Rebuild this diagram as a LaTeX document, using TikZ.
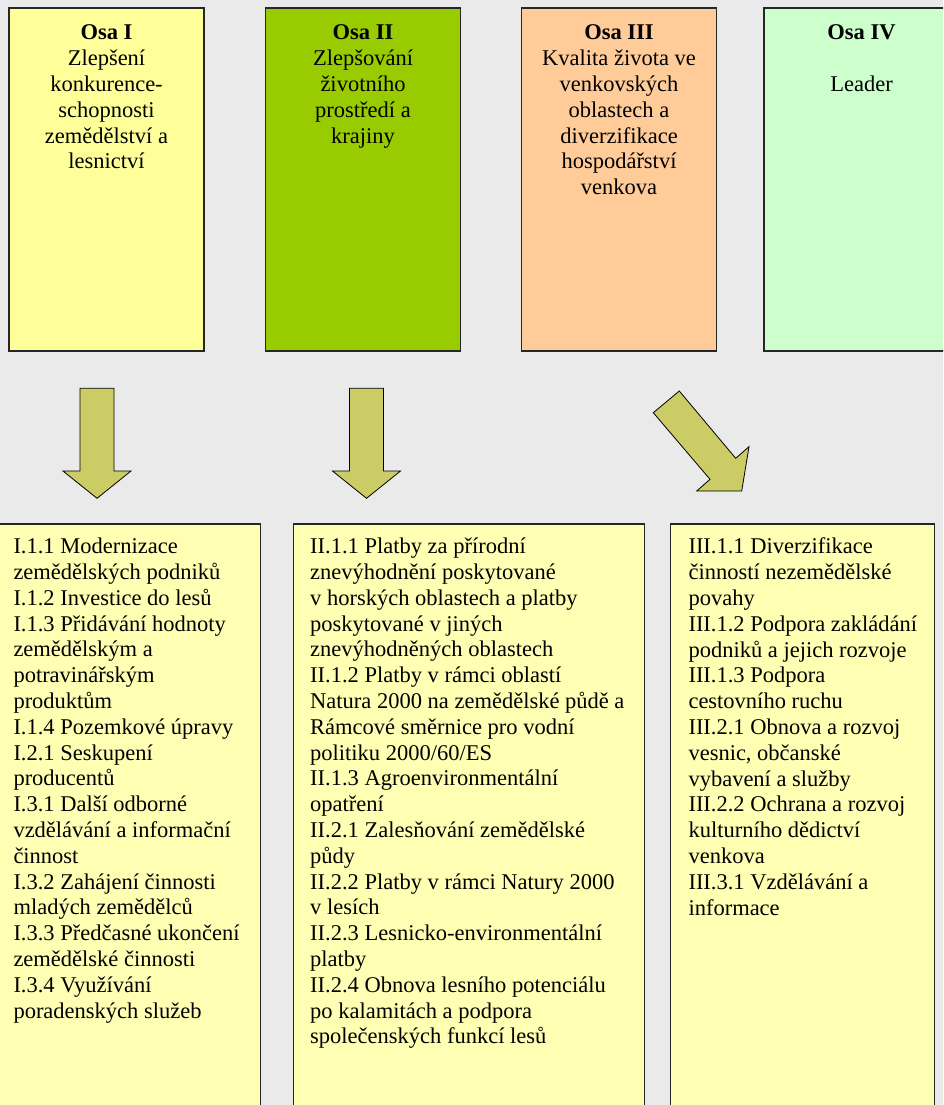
\documentclass[tikz,border=0pt]{standalone}
\usepackage{fontspec}
\setmainfont{Liberation Serif}
\usepackage{tikz}
\usetikzlibrary{positioning}
\definecolor{osabg}{RGB}{234,234,234}
\definecolor{osayellow}{RGB}{255,255,153}
\definecolor{osagreen}{RGB}{153,204,0}
\definecolor{osaorange}{RGB}{255,204,153}
\definecolor{osamint}{RGB}{204,255,204}
\definecolor{osapale}{RGB}{255,255,180}
\definecolor{osaolive}{RGB}{204,204,102}
\tikzstyle{axisbox} = [rectangle, minimum width=195pt, minimum height=343pt, draw=black!85, line width=1.2pt, inner sep=0pt]
\tikzstyle{axistext} = [align=center, inner sep=0pt, font=\fontsize{22.5}{25.9}\selectfont]
\tikzstyle{measurebox} = [rectangle, anchor=north west, minimum height=597pt, draw=black!85, line width=1.2pt, fill=osapale, inner sep=0pt]
\tikzstyle{measuretext} = [align=left, inner sep=0pt, font=\fontsize{22.5}{25.8}\selectfont]
\tikzstyle{blockarrow} = [draw=black, line width=0.8pt, fill=osaolive, line join=miter]

\begin{document}
\begin{tikzpicture}[x=1pt, y=-1pt]
\useasboundingbox (0,0) rectangle (943,1105);
\clip (0,0) rectangle (943,1105);
\fill[osabg] (0,0) rectangle (943,1105);

% Axis boxes
\node (osa1) [axisbox, fill=osayellow] at (106.5,179.5) {};
\node (osa2) [axisbox, fill=osagreen] at (363,179.5) {};
\node (osa3) [axisbox, fill=osaorange] at (619,179.5) {};
\node (osa4) [axisbox, fill=osamint] at (861.5,179.5) {};

\node (osa1txt) [axistext, below=17pt of osa1.north] {\textbf{Osa I}\\Zlepšení\\konkurence-\\schopnosti\\zemědělství a\\lesnictví};
\node (osa2txt) [axistext, below=17pt of osa2.north] {\textbf{Osa II}\\Zlepšování\\životního\\prostředí a\\krajiny};
\node (osa3txt) [axistext, below=17pt of osa3.north] {\textbf{Osa III}\\Kvalita života ve\\venkovských\\oblastech a\\diverzifikace\\hospodářství\\venkova};
\node (osa4txt) [axistext, below=17pt of osa4.north] {\textbf{Osa IV}\\[25.9pt]Leader};

% Block arrows
\draw[blockarrow] (80,388.3) -- (114,388.3) -- (114,471) -- (131,471) -- (97,498.3) -- (63,471) -- (80,471) -- cycle;
\draw[blockarrow] (349.5,388.3) -- (383.5,388.3) -- (383.5,471) -- (400.5,471) -- (366.5,498.3) -- (332.5,471) -- (349.5,471) -- cycle;
\draw[blockarrow] (679.3,391) -- (653.3,412.7) -- (710,479.3) -- (696.7,491) -- (741.7,491) -- (749,446.7) -- (735.7,458.3) -- cycle;

% Measure boxes
\node (meas1) [measurebox, minimum width=263pt] at (-3,523.3) {};
\node (meas2) [measurebox, minimum width=351pt] at (292.5,523.3) {};
\node (meas3) [measurebox, minimum width=264pt] at (669.5,523.3) {};

\node (meas1txt) [measuretext, anchor=north west] at (13.3,537.8) {I.1.1 Modernizace\\zemědělských podniků\\I.1.2 Investice do lesů\\I.1.3 Přidávání hodnoty\\zemědělským a\\potravinářským\\produktům\\I.1.4 Pozemkové úpravy\\I.2.1 Seskupení\\producentů\\I.3.1 Další odborné\\vzdělávání a informační\\činnost\\I.3.2 Zahájení činnosti\\mladých zemědělců\\I.3.3 Předčasné ukončení\\zemědělské činnosti\\I.3.4 Využívání\\poradenských služeb};
\node (meas2txt) [measuretext, anchor=north west] at (310,537.8) {II.1.1 Platby za přírodní\\znevýhodnění poskytované\\v horských oblastech a platby\\poskytované v jiných\\znevýhodněných oblastech\\II.1.2 Platby v rámci oblastí\\Natura 2000 na zemědělské půdě a\\Rámcové směrnice pro vodní\\politiku 2000/60/ES\\II.1.3 Agroenvironmentální\\opatření\\II.2.1 Zalesňování zemědělské\\půdy\\II.2.2 Platby v rámci Natury 2000\\v lesích\\II.2.3 Lesnicko-environmentální\\platby\\II.2.4 Obnova lesního potenciálu\\po kalamitách a podpora\\společenských funkcí lesů};
\node (meas3txt) [measuretext, anchor=north west] at (688.3,537.8) {III.1.1 Diverzifikace\\činností nezemědělské\\povahy\\III.1.2 Podpora zakládání\\podniků a jejich rozvoje\\III.1.3 Podpora\\cestovního ruchu\\III.2.1 Obnova a rozvoj\\vesnic, občanské\\vybavení a služby\\III.2.2 Ochrana a rozvoj\\kulturního dědictví\\venkova\\III.3.1 Vzdělávání a\\informace};
\end{tikzpicture}
\end{document}
